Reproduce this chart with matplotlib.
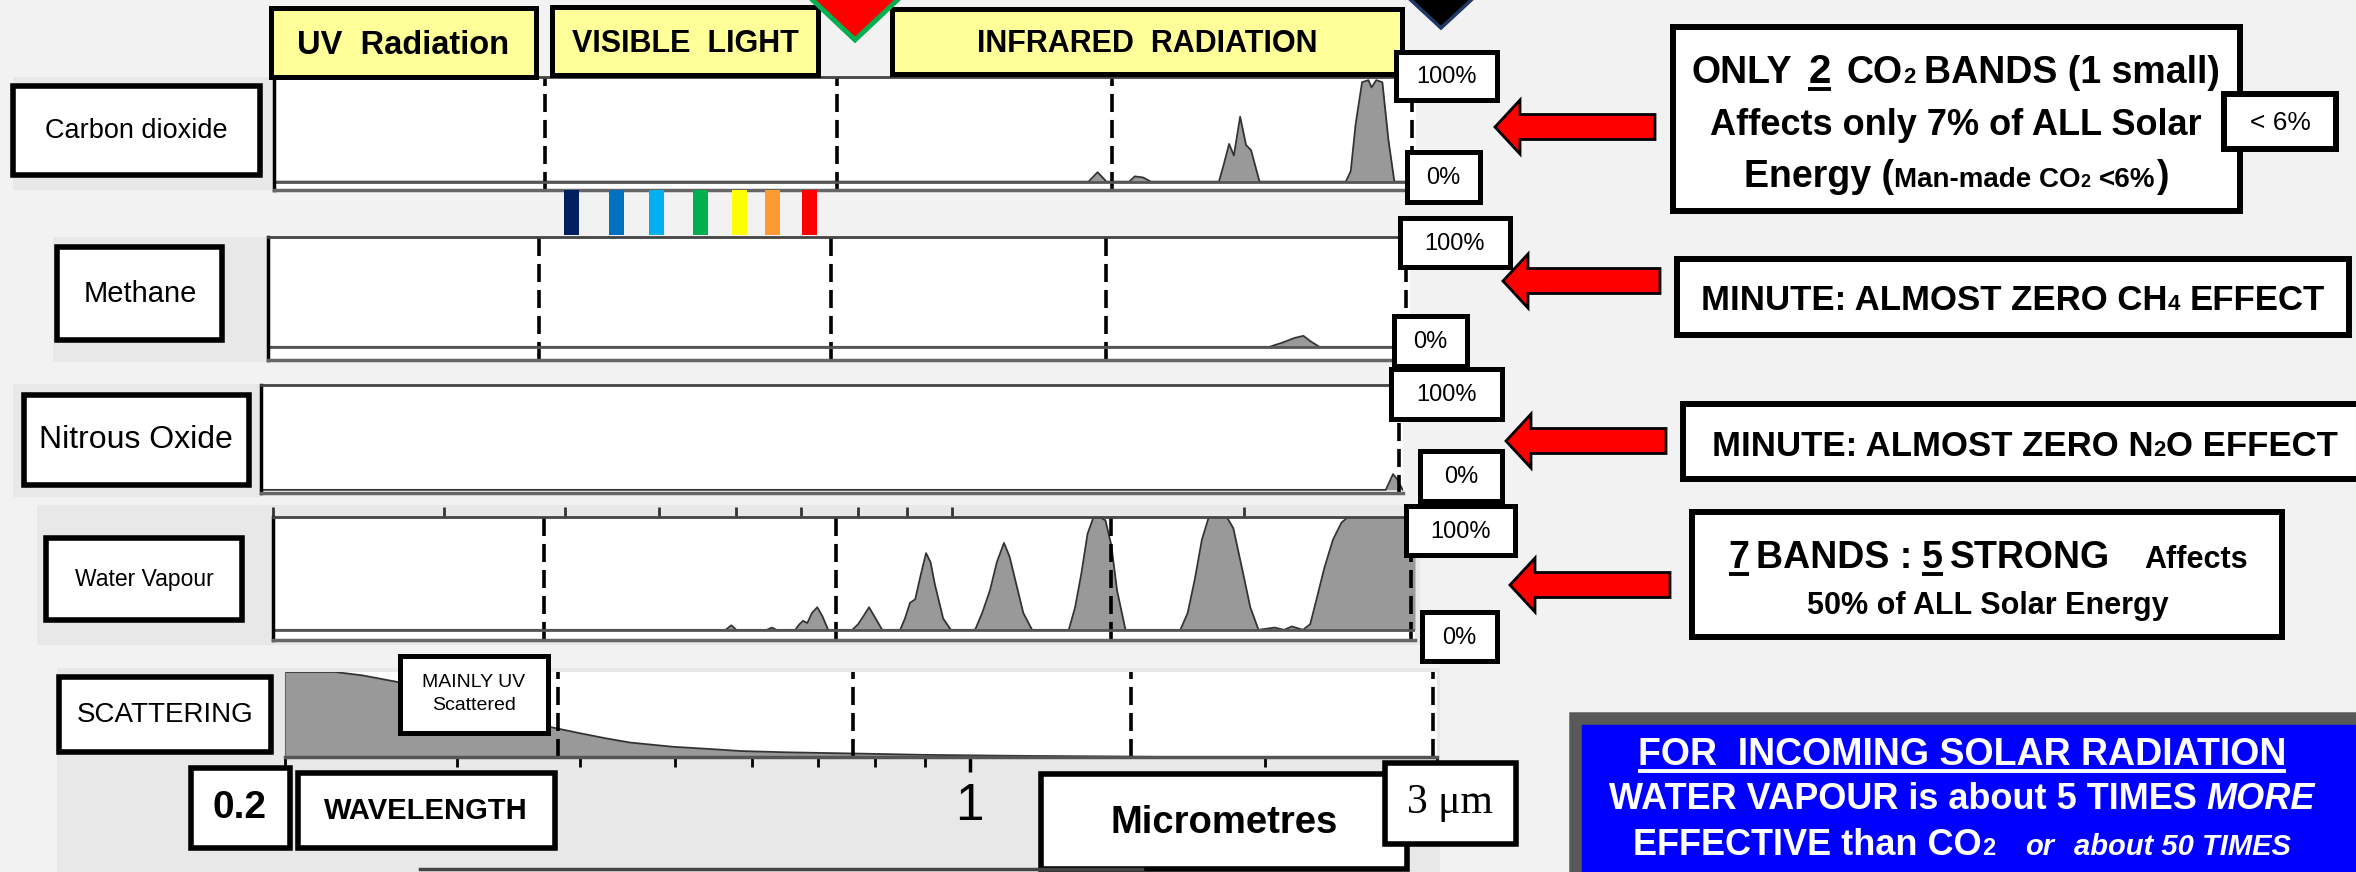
import numpy as np
import matplotlib.pyplot as plt
from matplotlib.patches import Rectangle, Polygon
from matplotlib.ticker import FixedLocator, NullLocator, NullFormatter

W, H = 2356, 872
SANS = ['Liberation Sans', 'DejaVu Sans']

# ---------- absorption (wavelength in um, 0..1) ----------
co2_wl = [0.2, 1.38, 1.41, 1.44, 1.52, 1.54, 1.57, 1.60, 1.88, 1.90, 1.926, 1.948, 1.977,
          2.005, 2.029, 2.07, 2.54, 2.57, 2.60, 2.64, 2.68, 2.70, 2.73, 2.77, 2.81, 2.85, 3.0]
co2_abs = [0, 0, 0.09, 0, 0, 0.05, 0.04, 0, 0, 0.15, 0.36, 0.25, 0.62,
           0.35, 0.3, 0, 0, 0.1, 0.55, 0.95, 0.97, 0.9, 0.97, 0.95, 0.4, 0, 0]

ch4_wl = [0.2, 2.15, 2.22, 2.28, 2.33, 2.37, 2.42, 3.0]
ch4_abs = [0, 0, 0.04, 0.08, 0.1, 0.05, 0, 0]

n2o_wl = [0.2, 2.88, 2.93, 2.96, 2.99, 3.0]
n2o_abs = [0, 0, 0.15, 0.1, 0.02, 0]

h2o_wl = [0.2, 0.585, 0.593, 0.60, 0.645, 0.653, 0.66, 0.69, 0.697, 0.703, 0.71, 0.718,
          0.727, 0.736, 0.746, 0.79, 0.801, 0.811, 0.822, 0.835, 0.848, 0.885, 0.895,
          0.906, 0.917, 0.93, 0.941, 0.951, 0.961, 0.98, 0.998, 1.057, 1.075, 1.095,
          1.113, 1.132, 1.147, 1.162, 1.185, 1.21, 1.32, 1.34, 1.36, 1.38, 1.40, 1.42,
          1.44, 1.46, 1.48, 1.51, 1.72, 1.75, 1.78, 1.81, 1.84, 1.88, 1.92, 1.95, 1.99,
          2.03, 2.07, 2.15, 2.20, 2.24, 2.30, 2.34, 2.38, 2.42, 2.47, 2.52, 2.56, 3.0]
h2o_abs = [0, 0, 0.04, 0, 0, 0.02, 0, 0, 0.05, 0.08, 0.06, 0.15,
           0.2, 0.12, 0, 0, 0.05, 0.12, 0.2, 0.1, 0, 0, 0.1,
           0.24, 0.27, 0.5, 0.68, 0.6, 0.4, 0.1, 0, 0, 0.15, 0.35,
           0.6, 0.77, 0.65, 0.45, 0.15, 0, 0, 0.2, 0.5, 0.85, 1.0, 1.0,
           0.97, 0.75, 0.35, 0, 0, 0.15, 0.45, 0.8, 1.0, 1.0, 1.0, 0.9, 0.55,
           0.2, 0, 0.02, 0, 0.03, 0, 0.05, 0.3, 0.55, 0.8, 0.95, 1.0, 1.0]

scat_wl = [0.2, 0.225, 0.24, 0.264, 0.29, 0.32, 0.35, 0.374, 0.40, 0.425, 0.45, 0.498,
           0.55, 0.584, 0.65, 0.771, 0.9, 1.09, 1.6, 3.0]
scat_val = [1.0, 1.0, 0.96, 0.87, 0.75, 0.6, 0.45, 0.35, 0.28, 0.22, 0.17, 0.12,
            0.09, 0.07, 0.055, 0.04, 0.025, 0.015, 0.0, 0.0]

band_edges = [0.38, 0.76, 1.46, 2.97]          # UV | visible | IR dashed markers
spectrum_wl = [0.405, 0.451, 0.495, 0.55, 0.603, 0.652, 0.712]
spectrum_col = ['#002060', '#0070C0', '#00B0F0', '#00B050', '#FFFF00', '#FF9933', '#FF0000']
scale_ticks = [0.2, 0.3, 0.4, 0.5, 0.6, 0.7, 0.8, 0.9, 2, 3]

fig = plt.figure(figsize=(W / 100, H / 100), dpi=100)
fig.patch.set_facecolor('#F2F2F2')


def px_axes(l, t, r, b, **kw):
    return fig.add_axes([l / W, 1 - b / H, (r - l) / W, (b - t) / H], **kw)


# background layer (grey frames behind rows)
bg = px_axes(0, 0, W, H, zorder=-5)
bg.set_xlim(0, W); bg.set_ylim(H, 0); bg.axis('off')
for (l, t, r, b) in [(13, 77, 274, 190), (53, 237, 268, 362), (13, 384, 261, 497),
                     (37, 505, 1420, 645), (57, 668, 1440, H)]:
    bg.add_patch(Rectangle((l, t), r - l, b - t, facecolor='#E8E8E8', edgecolor='none'))


# ======================= SPECTRUM PANELS =======================
def panel(rect, wl, val, ylo, edges, double=True):
    ax = px_axes(*rect)
    ax.set_xscale('log')
    ax.set_xlim(0.2, 3.0)
    ax.set_ylim(ylo, 1.0)
    ax.fill_between(wl, 0, val, color='#999999', lw=0)
    ax.plot(wl, val, color='#333333', lw=1.3)
    for x in edges:
        ax.axvline(x, color='black', lw=2.6, dashes=(5, 2.2))
    if double:
        ax.axhline(0, color='#555555', lw=2)
    ax.xaxis.set_major_locator(NullLocator())
    ax.xaxis.set_minor_locator(NullLocator())
    ax.set_yticks([])
    ax.spines['left'].set_color('black'); ax.spines['left'].set_linewidth(2.5)
    ax.spines['top'].set_color('#444444'); ax.spines['top'].set_linewidth(2)
    ax.spines['bottom'].set_color('#666666'); ax.spines['bottom'].set_linewidth(2.5)
    ax.spines['right'].set_visible(False)
    return ax


panel((274, 77, 1416, 190), co2_wl, co2_abs, -0.08, band_edges)
panel((268, 237, 1410, 360), ch4_wl, ch4_abs, -0.12, band_edges)
panel((261, 385, 1403, 493), n2o_wl, n2o_abs, -0.03, band_edges[-1:], double=False)
ax_w = panel((273, 517, 1415, 640), h2o_wl, h2o_abs, -0.09, band_edges)
ax_w.xaxis.set_ticks_position('top')
ax_w.xaxis.set_major_locator(FixedLocator([1]))
ax_w.xaxis.set_minor_locator(FixedLocator(scale_ticks))
ax_w.xaxis.set_major_formatter(NullFormatter())
ax_w.xaxis.set_minor_formatter(NullFormatter())
ax_w.tick_params(axis='x', which='both', direction='out', length=7, width=2, color='#333333')

# scattering
ax_s = px_axes(285, 672, 1437, 757)
ax_s.set_xscale('log')
ax_s.set_xlim(0.2, 3.0)
ax_s.set_ylim(0, 1.0)
ax_s.fill_between(scat_wl, 0, scat_val, color='#999999', lw=0)
ax_s.plot(scat_wl, scat_val, color='#333333', lw=1.3)
for x in band_edges:
    ax_s.axvline(x, color='black', lw=2.6, dashes=(5, 2.2))
ax_s.set_yticks([])
ax_s.xaxis.set_major_locator(FixedLocator([1]))
ax_s.xaxis.set_minor_locator(FixedLocator(scale_ticks))
ax_s.xaxis.set_minor_formatter(NullFormatter())
ax_s.set_xticklabels(['1'], fontsize=37, family=SANS)
ax_s.tick_params(axis='x', which='major', direction='out', length=11, width=2.5, pad=7)
ax_s.tick_params(axis='x', which='minor', direction='out', length=7, width=2)
for s in ['top', 'right']:
    ax_s.spines[s].set_visible(False)
ax_s.spines['left'].set_color('#666666')
ax_s.spines['bottom'].set_color('#555555'); ax_s.spines['bottom'].set_linewidth(2.5)

# visible-light colour strip
ax_c = px_axes(274, 190, 1416, 235)
ax_c.set_xscale('log'); ax_c.set_xlim(0.2, 3.0); ax_c.set_ylim(0, 1)
ax_c.axis('off')
for w, c in zip(spectrum_wl, spectrum_col):
    ax_c.axvspan(w / 1.018, w * 1.018, color=c, lw=0)

# ======================= OVERLAY (boxes, arrows, text) =======================
ov = px_axes(0, 0, W, H, zorder=10)
ov.set_xlim(0, W); ov.set_ylim(H, 0); ov.axis('off')
ov.patch.set_alpha(0)
renderer = fig.canvas.get_renderer()


def box(l, t, r, b, fc='white', lw=4.0, ec='black'):
    ov.add_patch(Rectangle((l, t), r - l, b - t, facecolor=fc, edgecolor=ec,
                           linewidth=lw, joinstyle='miter'))


def label(x, y, s, size, weight='normal', color='black', family=SANS, **kw):
    ov.text(x, y, s, ha='center', va='center', fontsize=size, fontweight=weight,
            color=color, family=family, **kw)


def rich(xc, y, pieces, color='black'):
    """pieces: text tuples (s, size, weight, style, underline) or a number = gap in px"""
    parts, total = [], 0
    for p in pieces:
        if isinstance(p, (int, float)):
            parts.append((None, p, False)); total += p
            continue
        s, size, weight, style, ul = p
        t = ov.text(0, y, s, ha='left', va='baseline', fontsize=size, fontweight=weight,
                    fontstyle=style, color=color, family=SANS)
        w = t.get_window_extent(renderer).width
        parts.append((t, w, ul)); total += w
    x = xc - total / 2
    for t, w, ul in parts:
        if t is not None:
            t.set_x(x)
            if ul:
                ov.plot([x, x + w], [y + 6, y + 6], color=color, lw=2.8, solid_capstyle='butt')
        x += w


def arrow(x_tip, yc, x_end):
    hx = x_tip + 25
    pts = [(x_tip, yc), (hx, yc - 27), (hx, yc - 12.5), (x_end, yc - 12.5),
           (x_end, yc + 12.5), (hx, yc + 12.5), (hx, yc + 27)]
    ov.add_patch(Polygon(pts, closed=True, facecolor='#FF0000', edgecolor='black',
                         linewidth=2, joinstyle='miter'))


# top region boxes
for (l, t, r, b), s, fs in zip([(271, 8, 536, 77), (552, 7, 818, 75), (892, 9, 1402, 74)],
                               ['UV  Radiation', 'VISIBLE  LIGHT', 'INFRARED  RADIATION'],
                               [23.5, 22, 22]):
    box(l, t, r, b, fc='#FFFF99', lw=3.6)
    label((l + r) / 2, (t + b) / 2 + 3, s, fs, 'bold')

ov.add_patch(Polygon([(802, -10), (908, -10), (855, 40)], closed=True, facecolor='#FF0000',
                     edgecolor='#00B050', linewidth=3.5, clip_on=False))
ov.add_patch(Polygon([(1400, -10), (1482, -10), (1441, 28)], closed=True, facecolor='black',
                     edgecolor='#1F3864', linewidth=2.5, clip_on=False))

# row labels
box(13, 86, 260, 175); label(136, 131, 'Carbon dioxide', 19.5)
box(57, 247, 222, 340); label(140, 294, 'Methane', 21)
box(24, 395, 249, 485); label(136, 440, 'Nitrous Oxide', 23)
box(46, 538, 242, 620); label(144, 579, 'Water Vapour', 16.5)
box(59, 677, 271, 752); label(165, 715, 'SCATTERING', 20)
box(400, 656, 548, 733, lw=3.6); label(474, 694, 'MAINLY UV\nScattered', 14, linespacing=1.5)

# percentage boxes
for (l, t, r, b), s in [((1396, 52, 1497, 100), '100%'), ((1407, 152, 1480, 202), '0%'),
                        ((1400, 218, 1510, 267), '100%'), ((1394, 316, 1467, 366), '0%'),
                        ((1391, 369, 1502, 419), '100%'), ((1420, 451, 1502, 501), '0%'),
                        ((1406, 506, 1515, 555), '100%'), ((1422, 612, 1497, 661), '0%')]:
    box(l, t, r, b, lw=3.6)
    label((l + r) / 2, (t + b) / 2 + 1, s, 17)

# axis boxes
box(191, 768, 290, 848); label(240, 808, '0.2', 28, 'bold')
box(298, 773, 555, 848); label(426, 811, 'WAVELENGTH', 21, 'bold')
box(1041, 774, 1407, 869); label(1224, 823, 'Micrometres', 27.5, 'bold')
box(1385, 763, 1516, 844); label(1450, 803, '3 \u03bcm', 30,
                                 family=['Liberation Serif', 'DejaVu Serif'])
ov.plot([420, 1142], [869, 869], color='#444444', lw=2.5)

# arrows
arrow(1495, 127, 1655)
arrow(1503, 281, 1660)
arrow(1506, 441, 1666)
arrow(1510, 585, 1670)

# CO2 comment
box(1673, 27, 2240, 211, lw=4.3)
rich(1956, 83, [('ONLY', 27, 'bold', 'normal', False), 16, ('2', 29, 'bold', 'normal', True), 16,
                ('CO', 27, 'bold', 'normal', False), ('2', 16, 'bold', 'normal', False), 9,
                ('BANDS (1 small)', 27, 'bold', 'normal', False)])
rich(1956, 135, [('Affects only 7% of ALL Solar', 26, 'bold', 'normal', False)])
rich(1956, 187, [('Energy (', 27, 'bold', 'normal', False), ('Man-made CO', 20, 'bold', 'normal', False),
                 ('2', 13, 'bold', 'normal', False), 9, ('<6%', 20, 'bold', 'normal', False),
                 (')', 27, 'bold', 'normal', False)])
box(2224, 94, 2336, 149, lw=4.3); label(2280, 123, '< 6%', 19)

# CH4 / N2O comments
box(1677, 259, 2349, 335, lw=4.3)
rich(2013, 310, [('MINUTE: ALMOST ZERO CH', 25, 'bold', 'normal', False),
                 ('4', 16, 'bold', 'normal', False), 9, ('EFFECT', 25, 'bold', 'normal', False)])
box(1683, 404, 2366, 479, lw=4.3)
rich(2025, 456, [('MINUTE: ALMOST ZERO N', 25, 'bold', 'normal', False),
                 ('2', 16, 'bold', 'normal', False), ('O EFFECT', 25, 'bold', 'normal', False)])

# H2O comment
box(1692, 512, 2282, 637, lw=4.3)
rich(1988, 568, [('7', 27, 'bold', 'normal', True), 7, ('BANDS :', 27, 'bold', 'normal', False), 9,
                 ('5', 27, 'bold', 'normal', True), 7, ('STRONG', 27, 'bold', 'normal', False), 34,
                 ('Affects', 22, 'bold', 'normal', False)])
rich(1988, 614, [('50% of ALL Solar Energy', 22, 'bold', 'normal', False)])

# blue summary box
box(1575, 718, 2370, 890, fc='#0000FF', ec='#595959', lw=9)
rich(1962, 765, [('FOR  INCOMING SOLAR RADIATION', 27, 'bold', 'normal', True)], color='white')
rich(1962, 809, [('WATER VAPOUR is about 5 TIMES', 26, 'bold', 'normal', False), 9,
                 ('MORE', 26, 'bold', 'italic', False)], color='white')
rich(1962, 855, [('EFFECTIVE than CO', 26, 'bold', 'normal', False), ('2', 17, 'bold', 'normal', False), 30,
                 ('or', 21, 'bold', 'italic', False), 20, ('about 50 TIMES', 21, 'bold', 'italic', False)],
     color='white')

fig.savefig('out.png', dpi=100, facecolor=fig.get_facecolor())
